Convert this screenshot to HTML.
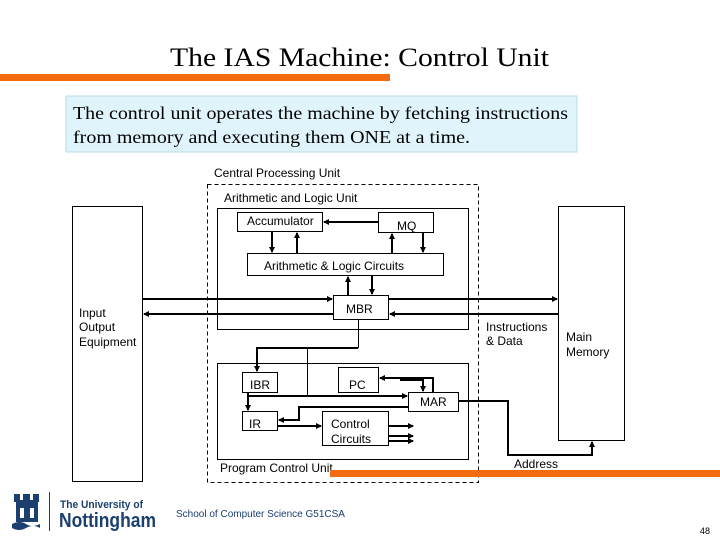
<!DOCTYPE html>
<html><head><meta charset="utf-8"><style>
body{margin:0;background:#fff;}
svg{display:block;font-family:"Liberation Sans",sans-serif;}
</style></head><body>
<svg width="720" height="540" viewBox="0 0 720 540" xmlns="http://www.w3.org/2000/svg">
<defs>
<marker id="a" markerWidth="6" markerHeight="6" refX="5" refY="3" orient="auto" markerUnits="userSpaceOnUse"><path d="M0,0 L6,3 L0,6z" fill="#000"/></marker>
</defs>
<text x="170" y="66" textLength="379" lengthAdjust="spacingAndGlyphs" font-family="Liberation Serif,serif" font-size="26">The IAS Machine: Control Unit</text>
<rect x="0" y="74" width="390" height="7" fill="#f26b10"/>
<rect x="66" y="96" width="511" height="56" fill="#e0f4fb" stroke="#b8dce8"/>
<text x="73" y="119" textLength="495" lengthAdjust="spacingAndGlyphs" font-family="Liberation Serif,serif" font-size="18">The control unit operates the machine by fetching instructions</text>
<text x="73" y="143" textLength="397" lengthAdjust="spacingAndGlyphs" font-family="Liberation Serif,serif" font-size="18">from memory and executing them ONE at a time.</text>

<g font-size="12" fill="#000">
<text x="214" y="177">Central Processing Unit</text>
<text x="224" y="202">Arithmetic and Logic Unit</text>
</g>
<rect x="207.5" y="184.5" width="271" height="298" fill="none" stroke="#000" stroke-dasharray="4,3"/>
<rect x="217.5" y="208.5" width="251" height="121" fill="none" stroke="#000"/>
<rect x="72.5" y="206.5" width="70" height="275" fill="none" stroke="#000"/>
<rect x="558.5" y="206.5" width="66" height="234" fill="none" stroke="#000"/>

<g fill="#fff" stroke="#000">
<rect x="237.5" y="212.5" width="85" height="19"/>
<rect x="378.5" y="212.5" width="55" height="20"/>
<rect x="247.5" y="253.5" width="196" height="22"/>
<rect x="333.5" y="295.5" width="55" height="24"/>
</g>
<g font-size="12">
<text x="247" y="225">Accumulator</text>
<text x="397" y="230">MQ</text>
<text x="264" y="270">Arithmetic &amp; Logic Circuits</text>
<text x="346" y="313">MBR</text>
</g>
<g stroke="#000" stroke-width="2" fill="none" marker-end="url(#a)">
<line x1="378" y1="222" x2="324" y2="222"/>
<line x1="272" y1="232" x2="272" y2="252"/>
<line x1="297" y1="253" x2="297" y2="233"/>
<line x1="392" y1="253" x2="392" y2="234"/>
<line x1="423" y1="233" x2="423" y2="252"/>
<line x1="348" y1="295" x2="348" y2="277"/>
<line x1="372" y1="276" x2="372" y2="294"/>
<line x1="143" y1="299" x2="332" y2="299"/>
<line x1="389" y1="299" x2="557" y2="299"/>
<line x1="558" y1="314" x2="390" y2="314"/>
<line x1="333" y1="314" x2="144" y2="314"/>
</g>
<g font-size="12">
<text x="79" y="317">Input</text>
<text x="79" y="331">Output</text>
<text x="79" y="346">Equipment</text>
<text x="486" y="331">Instructions</text>
<text x="486" y="345">&amp; Data</text>
<text x="566" y="341">Main</text>
<text x="566" y="356">Memory</text>
</g>

<rect x="217.5" y="363.5" width="251" height="96" fill="none" stroke="#000"/>
<line x1="358.5" y1="320" x2="358.5" y2="348" stroke="#000"/>
<line x1="307.5" y1="348" x2="307.5" y2="396" stroke="#000"/>
<g fill="#fff" stroke="#000">
<rect x="242.5" y="372.5" width="35" height="20"/>
<rect x="338.5" y="367.5" width="40" height="25"/>
<rect x="408.5" y="392.5" width="50" height="19"/>
<rect x="242.5" y="411.5" width="35" height="19"/>
<rect x="322.5" y="411.5" width="66" height="34"/>
</g>
<g font-size="12">
<text x="250" y="389">IBR</text>
<text x="349" y="389">PC</text>
<text x="420" y="406">MAR</text>
<text x="249" y="428">IR</text>
<text x="331" y="428">Control</text>
<text x="331" y="443">Circuits</text>
<text x="220" y="472">Program Control Unit</text>
<text x="514" y="468">Address</text>
</g>
<g stroke="#000" stroke-width="2" fill="none" marker-end="url(#a)">
<polyline points="358,348 257,348 257,371"/>
<line x1="248" y1="393" x2="248" y2="410"/>
<polyline points="248,396 407,396"/>
<polyline points="433,392 433,378 380,378"/>
<polyline points="400,380 423,380 423,391"/>
<polyline points="408,407 299,407 299,420 279,420"/>
<line x1="278" y1="426" x2="321" y2="426"/>
<line x1="389" y1="426" x2="413" y2="426"/>
<line x1="389" y1="436" x2="413" y2="436"/>
<line x1="389" y1="441" x2="413" y2="441"/>
<polyline points="459,401 508,401 508,455 592,455 592,442"/>
</g>
<rect x="330" y="470" width="390" height="7" fill="#f26b10"/>

<g fill="#1b3f6e">
<rect x="16" y="500" width="22" height="22"/>
<rect x="14" y="494" width="6" height="8"/><rect x="23" y="494" width="7" height="8"/><rect x="33" y="494" width="6" height="8"/>
<path d="M12,524 q8,-4 14,0 t14,0 v4 q-7,-4 -14,0 t-14,0z"/>
</g>
<rect x="20" y="508" width="4" height="10" fill="#fff"/><rect x="30" y="508" width="4" height="10" fill="#fff"/>
<line x1="49.5" y1="492" x2="49.5" y2="531" stroke="#1b3f6e"/>
<text x="60" y="508" textLength="83" lengthAdjust="spacingAndGlyphs" font-size="11" font-weight="bold" fill="#1b3f6e">The University of</text>
<text x="59" y="527" textLength="97" lengthAdjust="spacingAndGlyphs" font-size="20" font-weight="bold" fill="#1b3f6e">Nottingham</text>
<text x="176" y="517" font-size="10" fill="#1b3f6e">School of Computer Science G51CSA</text>
<text x="700" y="534" font-size="9">48</text>
</svg>
</body></html>
